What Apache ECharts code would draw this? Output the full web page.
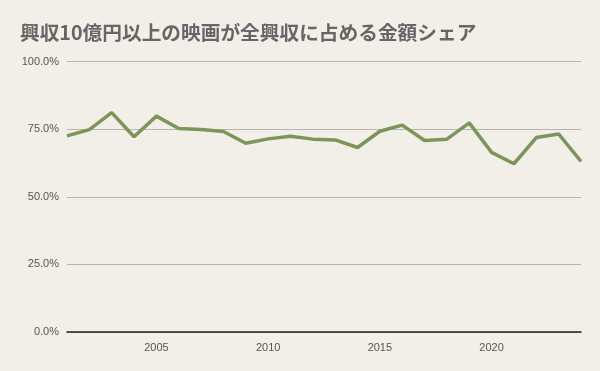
<!DOCTYPE html>
<html><head><meta charset="utf-8">
<script src="https://cdn.jsdelivr.net/npm/echarts@6/dist/echarts.min.js"></script>
<style>html,body{margin:0;padding:0;background:#f2efe9;}#c{width:600px;height:371px;}</style>
</head><body><div id="c"></div>
<script>
const years = ['2001','2002','2003','2004','2005','2006','2007','2008','2009','2010','2011','2012','2013','2014','2015','2016','2017','2018','2019','2020','2021','2022','2023','2024'];
const share = [72.5,74.8,81.1,72.2,79.8,75.2,74.9,74.1,69.8,71.4,72.4,71.3,71.0,68.2,74.2,76.5,70.8,71.3,77.3,66.4,62.2,71.9,73.2,63.1];
const yTicks = [0,25,50,75,100];
const xLabelYears = ['2005','2010','2015','2020'];

const chart = echarts.init(document.getElementById('c'));
chart.setOption({
  backgroundColor: '#f2efe9',
  title: {
    text: '興収10億円以上の映画が全興収に占める金額シェア',
    left: 15, top: 18,
    textStyle: { fontFamily: 'Noto Sans CJK JP', fontWeight: 'bold', fontSize: 19.7, color: '#666666' }
  },
  grid: { left: 67, right: 19, top: 61.5, bottom: 39 },
  xAxis: {
    type: 'category',
    data: years,
    boundaryGap: false,
    axisLine: { lineStyle: { color: '#222', width: 1.5 } },
    axisTick: { show: false },
    axisLabel: {
      interval: 0,
      formatter: v => xLabelYears.includes(v) ? v : '',
      color: '#555', fontSize: 11, fontFamily: 'Liberation Sans', margin: 10
    },
    splitLine: { show: false }
  },
  yAxis: {
    type: 'value',
    min: yTicks[0], max: yTicks[yTicks.length-1], interval: 25,
    axisLine: { show: false },
    axisTick: { show: false },
    axisLabel: { formatter: v => v.toFixed(1) + '%', color: '#555', fontSize: 11, fontFamily: 'Liberation Sans', margin: 8 },
    splitLine: { lineStyle: { color: '#b8b5b0', width: 1 } }
  },
  series: [{
    type: 'line',
    data: share,
    symbol: 'none',
    lineStyle: { color: '#7c955a', width: 3.5 },
    itemStyle: { color: '#7c955a' }
  }]
});
</script></body></html>
